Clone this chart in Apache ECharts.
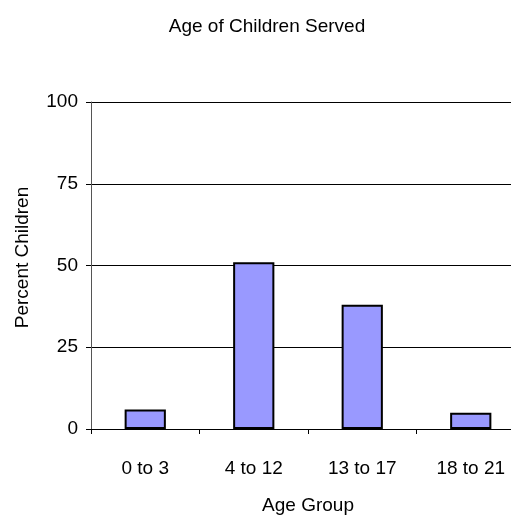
<!DOCTYPE html>
<html>
<head>
<meta charset="utf-8">
<script src="https://cdn.jsdelivr.net/npm/echarts@6/dist/echarts.min.js"></script>
<style>
  html, body { margin: 0; padding: 0; background: #fff; }
  #chart { width: 511px; height: 515px; }
</style>
</head>
<body>
<div id="chart"></div>
<script>
// Share of children served, by age group (percent)
const ageGroups = ['0 to 3', '4 to 12', '13 to 17', '18 to 21'];
const percentChildren = [6, 51, 38, 5];
const yTicks = { min: 0, max: 100, step: 25 };

const FONT = '"Liberation Sans", Arial, sans-serif';
const FS = 19;

const chart = echarts.init(document.getElementById('chart'), null, { renderer: 'canvas' });

chart.setOption({
  backgroundColor: '#ffffff',
  animation: false,
  title: {
    text: 'Age of Children Served',
    left: 262,
    top: 12,
    textAlign: 'center',
    textStyle: { fontFamily: FONT, fontSize: FS, fontWeight: 'normal', color: '#000' }
  },
  // the last category runs past the right edge of the canvas
  grid: { left: 91, top: 102, width: 434, height: 327, containLabel: false, outerBoundsMode: 'none' },
  xAxis: {
    type: 'category',
    data: ageGroups,
    boundaryGap: true,
    name: 'Age Group',
    nameLocation: 'middle',
    nameGap: 67,
    nameTextStyle: { fontFamily: FONT, fontSize: FS, color: '#000' },
    axisLine: { lineStyle: { color: '#000', width: 1 } },
    axisTick: { show: true, length: 5, inside: false, lineStyle: { color: '#000' } },
    axisLabel: { margin: 30, fontFamily: FONT, fontSize: FS, color: '#000' },
    splitLine: { show: false }
  },
  yAxis: {
    type: 'value',
    min: yTicks.min,
    max: yTicks.max,
    interval: yTicks.step,
    name: 'Percent Children',
    nameLocation: 'middle',
    nameGap: 59,
    nameTextStyle: { fontFamily: FONT, fontSize: FS, color: '#000', padding: [0, 0, 0, 16] },
    axisLine: { show: true, lineStyle: { color: '#555', width: 1 } },
    axisTick: { show: true, length: 5, inside: false, lineStyle: { color: '#000' } },
    axisLabel: { margin: 13, fontFamily: FONT, fontSize: FS, color: '#000' },
    splitLine: { show: true, lineStyle: { color: '#000', width: 1 } }
  },
  series: [{
    type: 'bar',
    data: percentChildren,
    barWidth: '38%',
    itemStyle: { color: '#9999FF', borderColor: '#000', borderWidth: 2 }
  }]
});
</script>
</body>
</html>
